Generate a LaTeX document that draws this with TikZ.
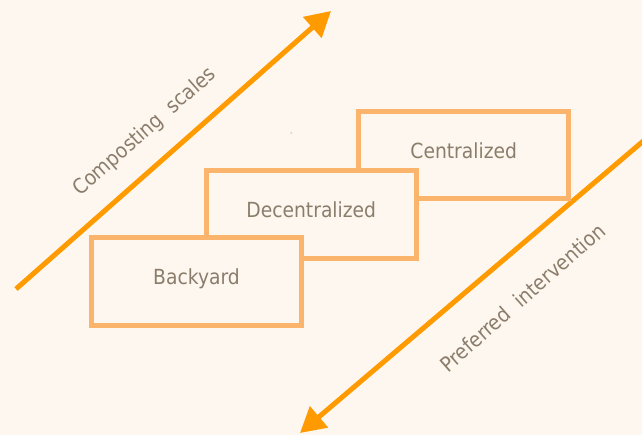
\documentclass[tikz,border=0pt]{standalone}
\usepackage{fontspec}
\setmainfont{DejaVu Sans}[FakeStretch=0.9]
\usetikzlibrary{arrows.meta}
\definecolor{bgc}{HTML}{FEF7EF}
\definecolor{boxc}{HTML}{FBB46B}
\definecolor{arrc}{HTML}{FF9A00}
\definecolor{txtc}{HTML}{8B7D6B}
\tikzset{
  stage/.style={draw=boxc, line width=5pt, fill=bgc, rectangle,
    minimum width=210pt, minimum height=88pt, inner sep=0pt,
    text=txtc, font=\fontsize{20.8}{24}\selectfont,
    text height=6pt, text depth=0pt},
  axis/.style={draw=arrc, line width=5pt, -{Triangle[length=25pt,width=27pt]}},
  axislabel/.style={text=txtc, font=\fontsize{20.8}{24}\selectfont, inner sep=0pt}
}
\begin{document}
\begin{tikzpicture}[x=1pt,y=-1pt]
\useasboundingbox (0,0) rectangle (642,435);
\clip (0,0) rectangle (642,435);
\fill[bgc] (0,0) rectangle (642,435);
% axes
\coordinate (a1s) at (16,289);
\coordinate (a1e) at (331,11);
\coordinate (a2s) at (648,137);
\coordinate (a2e) at (300,433);
\draw[axis] (a1s) -- (a1e);
\draw[axis] (a2s) -- (a2e);
\node[axislabel, rotate=41.4] (lab1) at (145,132) {Composting\hspace{0.3em} scales};
\node[axislabel, rotate=41.4] (lab2) at (522.5,297.5) {Preferred\hspace{0.3em} intervention};
% stages
\node[stage, minimum height=86.7pt] (cen) at (463.75,155.2) {Centralized};
\node[stage, minimum height=87.5pt] (dec) at (311.25,214.75) {Decentralized};
\node[stage] (bac) at (196.5,281.5) {Backyard};
\fill[black!70] (291,133) circle (0.5);
\end{tikzpicture}
\end{document}
